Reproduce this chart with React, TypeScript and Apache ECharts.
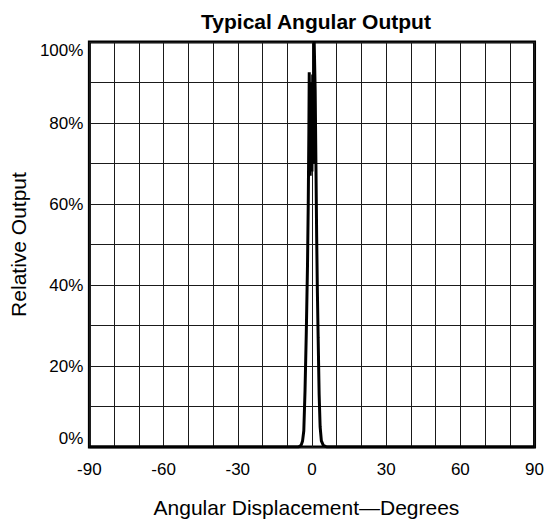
import React, { useEffect, useRef } from "react";
import * as echarts from "echarts";

// Angular displacement (degrees) and relative output (%) of the response curve
const angles: number[] = [
  -90, -5.5, -4.4, -3.8, -3.3, -2.8, -2.3, -1.8, -1.5, -1.25, -1.1, -0.7, -0.4, 0.0, 0.3, 0.6, 0.9,
  1.1, 1.3, 1.6, 1.9, 2.2, 2.5, 2.9, 3.3, 3.8, 4.6, 6.0, 90,
];
const outputs: number[] = [
  0, 0, 0.4, 1.5, 4, 14, 28, 45, 60, 78, 92.5, 67, 90, 68, 92, 70, 100,
  100, 88, 70, 52, 38, 27, 13, 5, 1.5, 0.4, 0, 0,
];

const xTicks: number[] = [-90, -60, -30, 0, 30, 60, 90];
const yTicks: number[] = [0, 20, 40, 60, 80, 100];

const titleText = "Typical Angular Output";
const xName = "Angular Displacement\u2014Degrees";
const yName = "Relative Output";

const FONT = "'Liberation Sans', Arial, Helvetica, sans-serif";

export default function App() {
  const ref = useRef<HTMLDivElement>(null);

  useEffect(() => {
    if (!ref.current) return;
    const chart = echarts.init(ref.current, undefined, { renderer: "svg" });
    const data = angles.map((a, i) => [a, outputs[i]]);
    const gridLine = { lineStyle: { color: "#1a1a1a", width: 1 } };
    chart.setOption({
      animation: false,
      backgroundColor: "#ffffff",
      textStyle: { fontFamily: FONT },
      title: {
        text: titleText,
        left: 311,
        textAlign: "center",
        top: 6,
        textStyle: { fontFamily: FONT, fontSize: 21, fontWeight: "bold", color: "#000" },
      },
      grid: {
        left: 89,
        right: 10,
        top: 42,
        bottom: 78,
        show: true,
        borderColor: "#000",
        borderWidth: 3,
        backgroundColor: "transparent",
      },
      xAxis: {
        type: "value",
        min: xTicks[0],
        max: xTicks[xTicks.length - 1],
        interval: 30,
        name: xName,
        nameLocation: "middle",
        nameGap: 50,
        nameTextStyle: { fontFamily: FONT, fontSize: 21, color: "#000", padding: [0, 11, 0, 0] },
        axisLine: { show: false },
        axisTick: { show: false },
        axisLabel: { fontFamily: FONT, fontSize: 17, color: "#000", margin: 14 },
        splitLine: { show: true, ...gridLine },
        minorTick: { show: false, splitNumber: 3 },
        minorSplitLine: { show: true, ...gridLine },
      },
      yAxis: {
        type: "value",
        min: yTicks[0],
        max: yTicks[yTicks.length - 1],
        interval: 20,
        name: yName,
        nameLocation: "middle",
        nameGap: 57,
        nameRotate: 90,
        nameTextStyle: { fontFamily: FONT, fontSize: 21, color: "#000" },
        axisLine: { show: false },
        axisTick: { show: false },
        axisLabel: {
          fontFamily: FONT,
          fontSize: 17,
          color: "#000",
          margin: 6,
          formatter: (v: number) => `${v}%`,
          verticalAlignMinLabel: "bottom",
          verticalAlignMaxLabel: "top",
        },
        splitLine: { show: true, ...gridLine },
        minorTick: { show: false, splitNumber: 2 },
        minorSplitLine: { show: true, ...gridLine },
      },
      series: [
        {
          type: "line",
          data,
          symbol: "none",
          smooth: false,
          lineStyle: { color: "#000", width: 3 },
          z: 5,
        },
      ],
    });
    return () => chart.dispose();
  }, []);

  return (
    <div
      ref={ref}
      style={{ position: "fixed", left: 0, top: 0, width: 547, height: 525, background: "#fff" }}
    />
  );
}
